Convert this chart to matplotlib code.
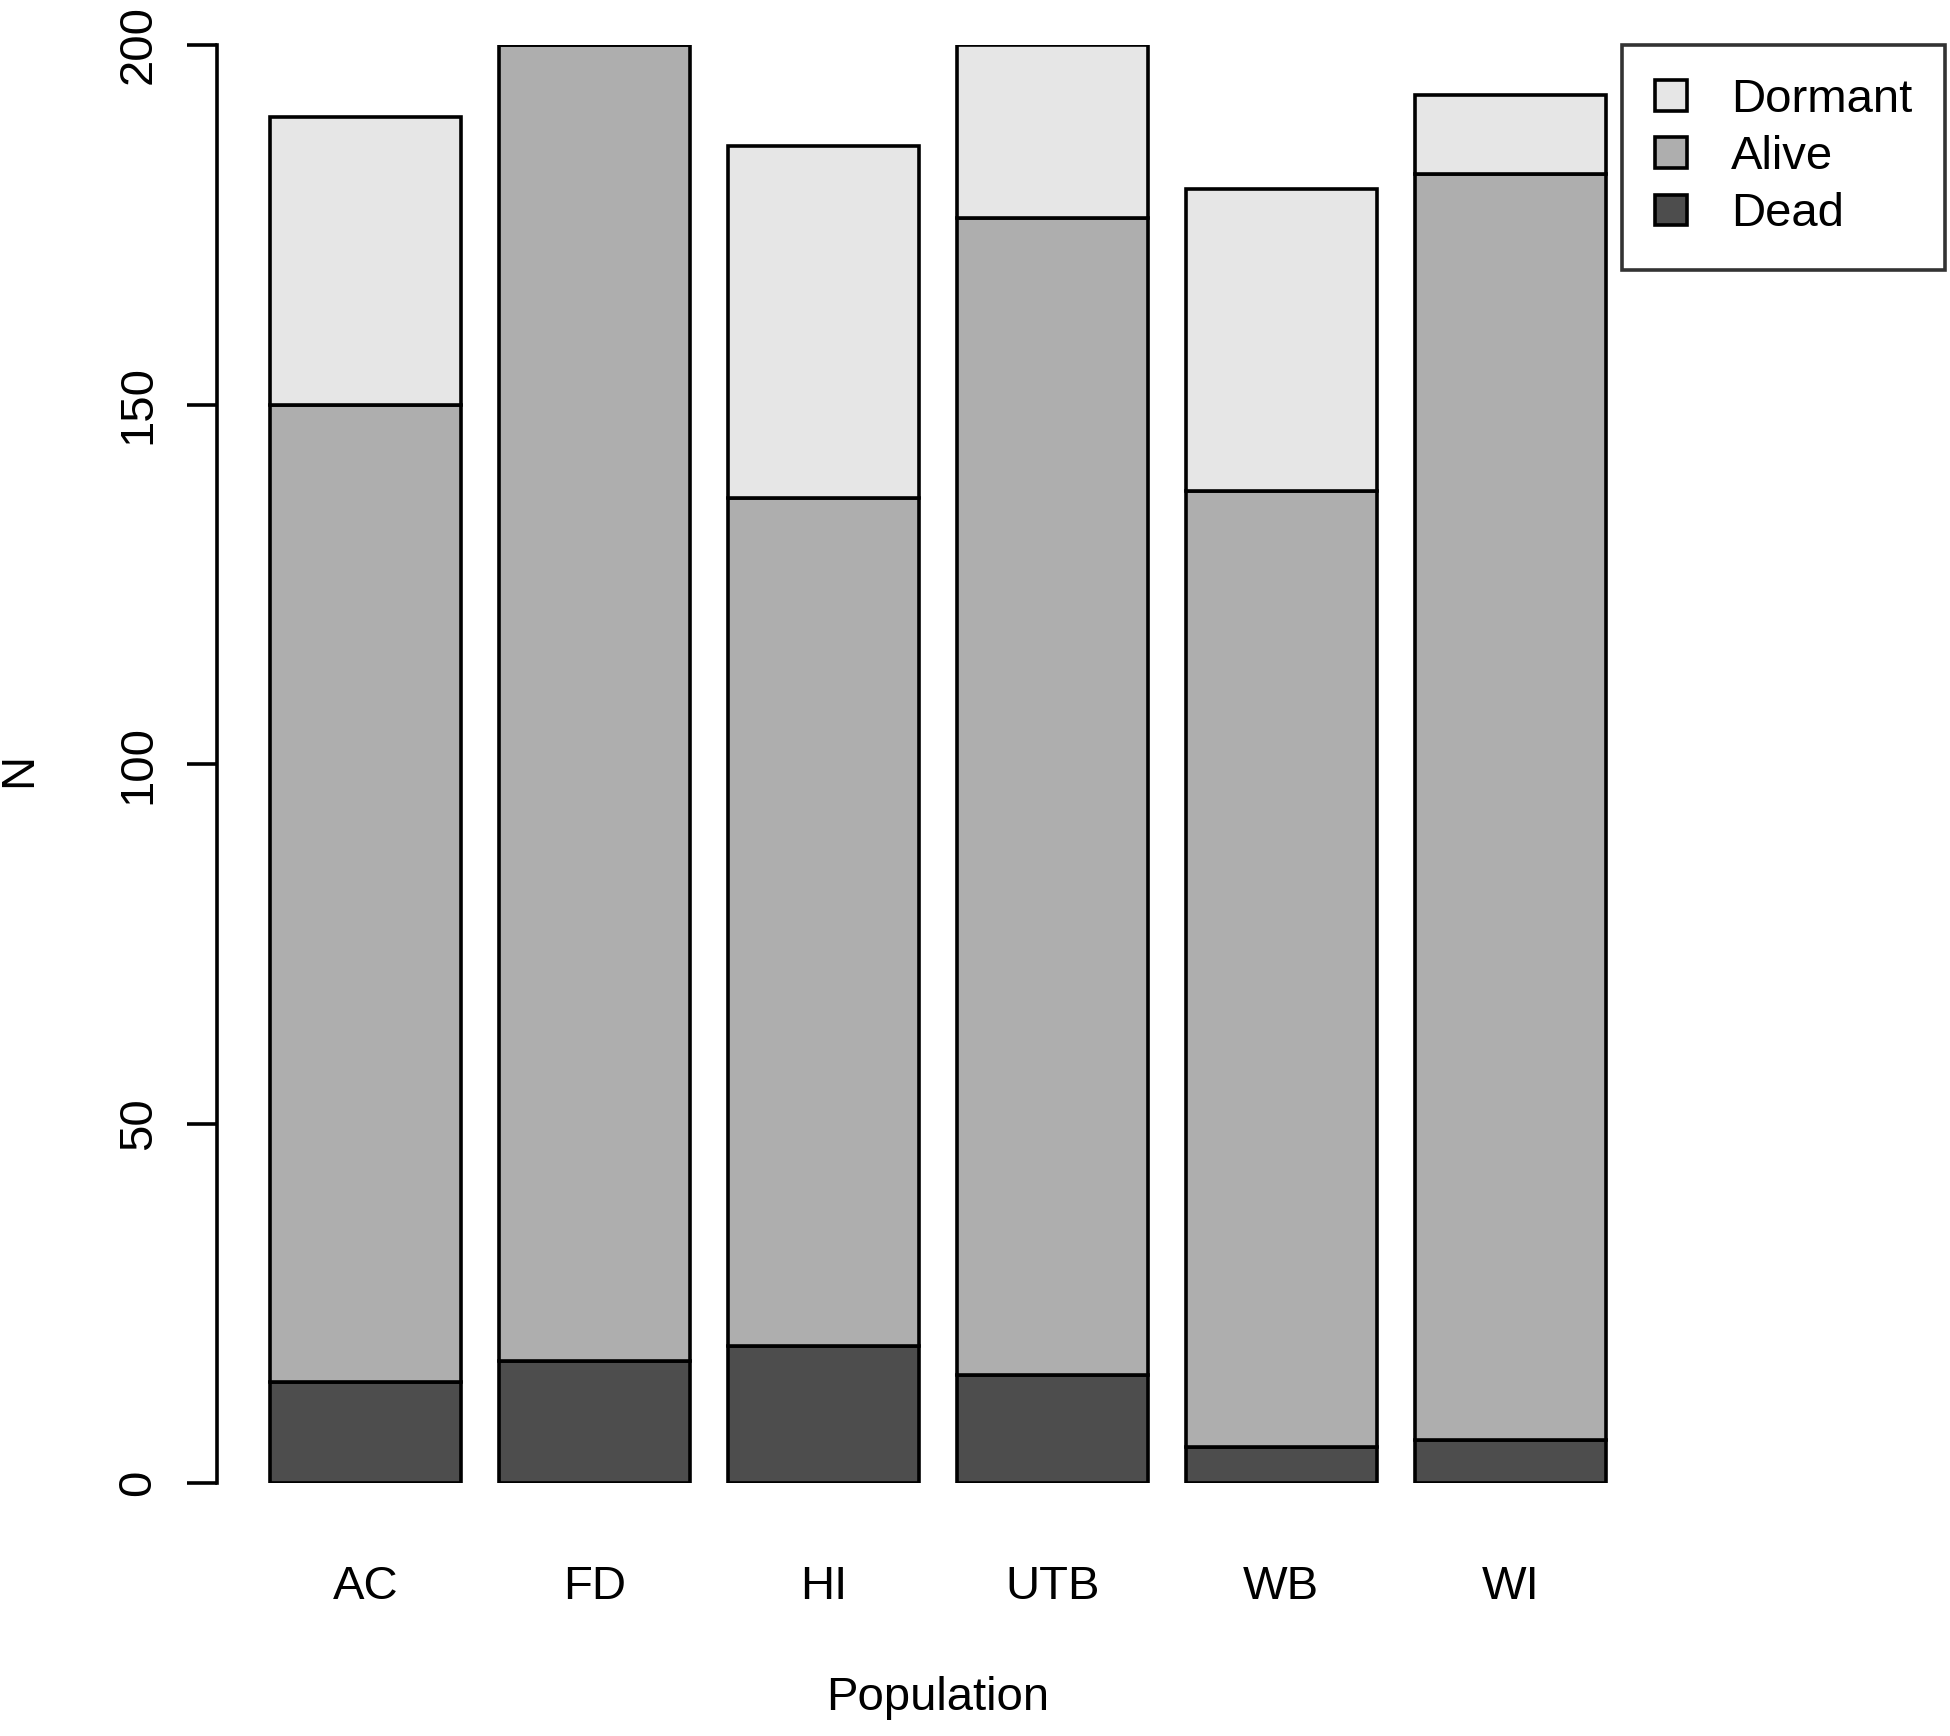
import numpy as np
import matplotlib.pyplot as plt
from matplotlib.patches import Patch

plt.rcParams['font.family'] = ['Liberation Sans', 'DejaVu Sans']

# counts per population, stacked bottom to top
populations = ['AC', 'FD', 'HI', 'UTB', 'WB', 'WI']
dead = [14, 17, 19, 15, 5, 6]
alive = [136, 183, 118, 161, 133, 176]
dormant = [40, 0, 49, 24, 42, 11]
y_ticks = [0, 50, 100, 150, 200]

col_dead = '#4D4D4D'
col_alive = '#AEAEAE'
col_dormant = '#E6E6E6'
lw = 2.6
fs = 34

W, H = 1950, 1736
fig = plt.figure(figsize=(W / 100, H / 100), dpi=100)
ax = fig.add_axes([217 / W, 1 - 1483 / H, 1442 / W, (1483 - 45) / H])

# R barplot style positions: width 1, space 0.2
x = 0.2 + np.arange(len(populations)) * 1.2 + 0.5
dead = np.array(dead)
alive = np.array(alive)
dormant = np.array(dormant)

ax.bar(x, dead, width=1, color=col_dead, edgecolor='black', linewidth=lw)
ax.bar(x, alive, width=1, bottom=dead, color=col_alive, edgecolor='black', linewidth=lw)
ax.bar(x, dormant, width=1, bottom=dead + alive, color=col_dormant, edgecolor='black', linewidth=lw)

ax.set_xlim(-0.08, 7.48)
ax.set_ylim(0, 200)
for s in ['top', 'right', 'bottom']:
    ax.spines[s].set_visible(False)
ax.spines['left'].set_linewidth(lw)
ax.spines['left'].set_bounds(0, 200)

ax.set_yticks(y_ticks)
ax.set_yticklabels([str(v) for v in y_ticks], rotation=90, va='center')
ax.tick_params(axis='y', length=21.6, width=lw, labelsize=fs, pad=19)
ax.set_xticks(x)
ax.set_xticklabels(populations)
ax.tick_params(axis='x', length=0, labelsize=fs, pad=59)

fig.text(19 / W, 1 - 770 / H, 'N', rotation=90, ha='center', va='center', fontsize=fs)
fig.text(938 / W, 1 - 1698 / H, 'Population', ha='center', va='center', fontsize=fs)

handles = [Patch(facecolor=col_dormant, edgecolor='black', linewidth=lw, label='Dormant'),
           Patch(facecolor=col_alive, edgecolor='black', linewidth=lw, label='Alive'),
           Patch(facecolor=col_dead, edgecolor='black', linewidth=lw, label='Dead')]
leg = fig.legend(handles=handles, loc='upper right', bbox_to_anchor=(1945 / W, 1 - 45 / H),
                 fontsize=fs, frameon=True, fancybox=False, edgecolor='black',
                 handlelength=0.68, handleheight=0.62, handletextpad=0.92,
                 labelspacing=0.28, borderpad=0.7, borderaxespad=0)
leg.get_frame().set_linewidth(lw)

fig.savefig('out.png', dpi=100)
